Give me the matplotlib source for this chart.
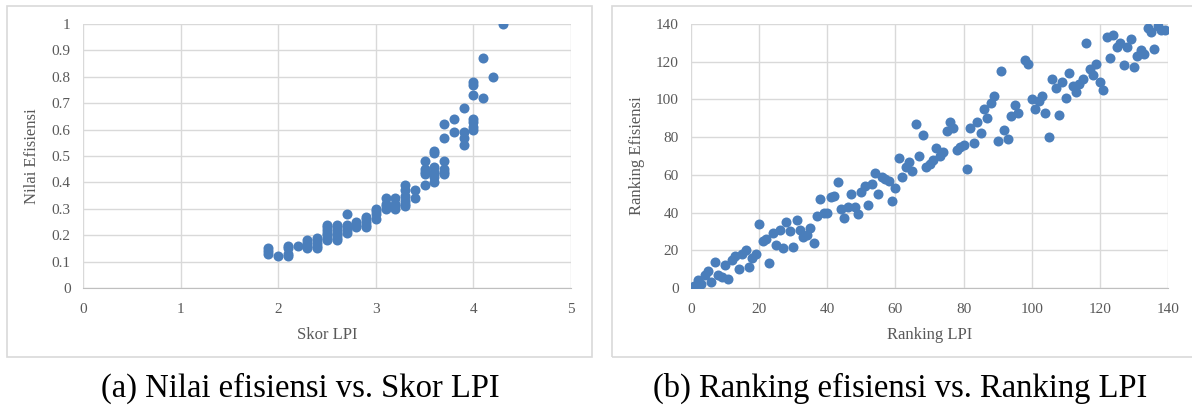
import numpy as np
import matplotlib
matplotlib.use('Agg')
import matplotlib.pyplot as plt
from matplotlib.patches import Rectangle

# (a) skor LPI vs nilai efisiensi
skor_lpi = [1.9, 1.9, 1.9, 2.0, 2.1, 2.1, 2.1, 2.1, 2.2,
            2.3, 2.3, 2.3, 2.3, 2.4, 2.4, 2.4, 2.4, 2.4,
            2.5, 2.5, 2.5, 2.5, 2.5, 2.5, 2.5,
            2.6, 2.6, 2.6, 2.6, 2.6, 2.6, 2.6,
            2.7, 2.7, 2.7, 2.7, 2.7, 2.8, 2.8, 2.8,
            2.9, 2.9, 2.9, 2.9, 2.9, 3.0, 3.0, 3.0, 3.0,
            3.1, 3.1, 3.1, 3.1, 3.2, 3.2, 3.2, 3.2,
            3.3, 3.3, 3.3, 3.3, 3.3, 3.3, 3.4, 3.4,
            3.5, 3.5, 3.5, 3.5, 3.5,
            3.6, 3.6, 3.6, 3.6, 3.6, 3.6, 3.6,
            3.7, 3.7, 3.7, 3.7, 3.7, 3.7, 3.8, 3.8,
            3.9, 3.9, 3.9, 3.9,
            4.0, 4.0, 4.0, 4.0, 4.0, 4.0, 4.0,
            4.1, 4.1, 4.2, 4.3]
nilai_efisiensi = [0.15, 0.14, 0.13, 0.12, 0.16, 0.15, 0.13, 0.12, 0.16,
                   0.18, 0.17, 0.16, 0.15, 0.19, 0.18, 0.17, 0.16, 0.15,
                   0.24, 0.23, 0.22, 0.21, 0.20, 0.19, 0.18,
                   0.24, 0.23, 0.22, 0.21, 0.20, 0.19, 0.18,
                   0.28, 0.24, 0.23, 0.22, 0.21, 0.25, 0.24, 0.23,
                   0.27, 0.26, 0.25, 0.24, 0.23, 0.30, 0.29, 0.28, 0.26,
                   0.34, 0.32, 0.31, 0.30, 0.34, 0.32, 0.31, 0.30,
                   0.39, 0.37, 0.35, 0.33, 0.32, 0.31, 0.37, 0.34,
                   0.48, 0.45, 0.44, 0.43, 0.39,
                   0.52, 0.51, 0.46, 0.44, 0.43, 0.42, 0.40,
                   0.62, 0.57, 0.48, 0.45, 0.44, 0.43, 0.64, 0.59,
                   0.68, 0.59, 0.57, 0.54,
                   0.78, 0.77, 0.73, 0.64, 0.63, 0.61, 0.60,
                   0.87, 0.72, 0.80, 1.00]

# (b) ranking LPI vs ranking efisiensi
rank_lpi = [1, 2, 3, 4, 5, 6, 7, 8, 9, 10, 11, 12, 13, 14, 15, 16, 17, 18, 19, 20,
            21, 22, 23, 24, 25, 26, 27, 28, 29, 30, 31, 32, 33, 34, 35, 36, 37, 38, 39, 40,
            41, 42, 43, 44, 45, 46, 47, 48, 49, 50, 51, 52, 53, 54, 55, 56, 57, 58, 59, 60,
            61, 62, 63, 64, 65, 66, 67, 68, 69, 70, 71, 72, 73, 74, 75, 76, 77, 78, 79, 80,
            81, 82, 83, 84, 85, 86, 87, 88, 89, 90, 91, 92, 93, 94, 95, 96, 98, 99, 100,
            101, 102, 103, 104, 105, 106, 107, 108, 109, 110, 111, 112, 113, 114, 115, 116,
            117, 118, 119, 120, 121, 122, 123, 124, 125, 126, 127, 128, 129, 130, 131, 132,
            133, 134, 135, 136, 137, 138, 139]
rank_efisiensi = [1, 4, 2, 7, 9, 3, 14, 7, 6, 12, 5, 15, 17, 10, 18, 20, 11, 16, 18, 34,
                  25, 26, 13, 29, 23, 31, 21, 35, 30, 22, 36, 31, 27, 28, 32, 24, 38, 47, 40, 40,
                  48, 49, 56, 42, 37, 43, 50, 43, 39, 51, 54, 44, 55, 61, 50, 59, 58, 57, 46, 53,
                  69, 59, 64, 67, 62, 87, 70, 81, 64, 66, 68, 74, 70, 72, 83, 88, 85, 73, 75, 76,
                  63, 85, 77, 88, 82, 95, 90, 98, 102, 78, 115, 84, 79, 91, 97, 93, 121, 119, 100,
                  95, 99, 102, 93, 80, 111, 106, 92, 109, 101, 114, 107, 104, 108, 111, 130,
                  116, 113, 119, 109, 105, 133, 122, 134, 128, 130, 118, 128, 132, 117, 123, 126,
                  124, 138, 136, 127, 139, 137, 137]

plt.rcParams['font.family'] = ['Liberation Serif', 'DejaVu Serif']

dot_color = '#4a7ebb'
grid_color = '#d9d9d9'
text_color = '#595959'

fig = plt.figure(figsize=(11.92, 4.12), dpi=100)

# kotak panel
fig.patches.append(Rectangle((7 / 1192, 55 / 412), 585 / 1192, 351 / 412,
                             transform=fig.transFigure, fill=False,
                             edgecolor=grid_color, linewidth=1.2))
fig.patches.append(Rectangle((612 / 1192, 55 / 412), 590 / 1192, 351 / 412,
                             transform=fig.transFigure, fill=False,
                             edgecolor=grid_color, linewidth=1.2))


def style_axes(ax, xlim, ylim, xstep, ystep, xlabel, ylabel, ylab_x):
    ax.set_xlim(*xlim)
    ax.set_ylim(*ylim)
    ax.set_xticks(np.arange(xlim[0], xlim[1] + xstep / 2, xstep))
    ax.set_yticks(np.arange(ylim[0], ylim[1] + ystep / 2, ystep))
    ax.grid(True, color=grid_color, linewidth=1.0)
    ax.set_axisbelow(True)
    for s in ['top', 'right', 'left']:
        ax.spines[s].set_visible(False)
    ax.spines['bottom'].set_color('#bfbfbf')
    ax.tick_params(length=0, labelsize=11, colors=text_color)
    ax.tick_params(axis='x', pad=11)
    ax.tick_params(axis='y', pad=9)
    ax.set_xlabel(xlabel, fontsize=12, color=text_color)
    ax.set_ylabel(ylabel, fontsize=12, color=text_color)
    ax.xaxis.set_label_coords(0.5, -0.148)
    ax.yaxis.set_label_coords(ylab_x, 0.5)


ax1 = fig.add_axes([83 / 1192, 124 / 412, 488 / 1192, 264 / 412])
ax1.scatter(skor_lpi, nilai_efisiensi, s=52, color=dot_color, linewidths=0, zorder=3)
style_axes(ax1, (0, 5), (0, 1), 1, 0.1, 'Skor LPI', 'Nilai Efisiensi', -0.088)
ax1.set_yticklabels(['0', '0.1', '0.2', '0.3', '0.4', '0.5', '0.6', '0.7', '0.8', '0.9', '1'])

ax2 = fig.add_axes([691 / 1192, 124 / 412, 477 / 1192, 264 / 412])
ax2.scatter(rank_lpi, rank_efisiensi, s=52, color=dot_color, linewidths=0, zorder=3)
style_axes(ax2, (0, 140), (0, 140), 20, 20, 'Ranking LPI', 'Ranking Efisiensi', -0.096)

fig.text(300 / 1192, 1 - 388 / 412, '(a) Nilai efisiensi vs. Skor LPI',
         ha='center', va='center', fontsize=23.5, color='black')
fig.text(900 / 1192, 1 - 388 / 412, '(b) Ranking efisiensi vs. Ranking LPI',
         ha='center', va='center', fontsize=23.5, color='black')

fig.savefig('out.png', dpi=100)
